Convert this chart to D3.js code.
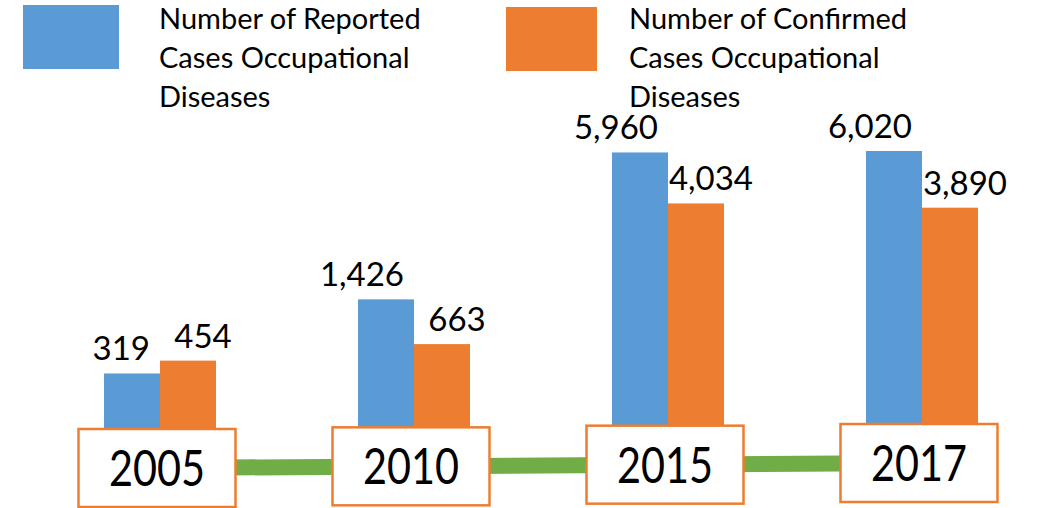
<!DOCTYPE html>
<html lang="en">
<head>
	<meta charset="utf-8">
	<script src="https://d3js.org/d3.v7.min.js"></script>
	<title>Occupational diseases</title>
	<style>
		html, body { margin: 0; padding: 0; background: #fff; }
		svg { display: block; font-family: Lato, "Open Sans", sans-serif; }
	</style>
</head>
<body>
<svg width="1051" height="508"></svg>
<script>
// data
var years = ["2005", "2010", "2015", "2017"];
var seriesNames = ["Reported", "Confirmed"];
var legendLines = [
	["Number of Reported", "Cases Occupational", "Diseases"],
	["Number of Confirmed", "Cases Occupational", "Diseases"]
];
var reported = [319, 1426, 5960, 6020];
var confirmed = [454, 663, 4034, 3890];

var colors = ["#5b9bd5", "#ed7d31"];

var svg = d3.select("svg");
var fmt = d3.format(",");

// x: one band per year, then a sub band per series
var x0 = d3.scaleBand()
	.domain(years)
	.range([33, 1049])
	.paddingInner(0.559)
	.paddingOuter(0.2795);
var x1 = d3.scaleBand()
	.domain(seriesNames)
	.range([0, x0.bandwidth()]);

// bars start behind the year boxes
var y = d3.scaleSqrt()
	.domain([0, 6020])
	.range([440, 151]);

var rows = years.map(function(yr, i){
	return {year: yr, values: [reported[i], confirmed[i]]};
});

// green connector, slightly rising to the right
var lineY = d3.scaleLinear()
	.domain([x0(years[0]), x0(years[years.length-1])])
	.range([468, 463]);

var half = x0.bandwidth()/2;
svg.append("line")
	.attr("x1", x0(years[0]) + half)
	.attr("x2", x0(years[years.length-1]) + half)
	.attr("y1", lineY(x0(years[0])))
	.attr("y2", lineY(x0(years[years.length-1])))
	.attr("stroke", "#70ad47")
	.attr("stroke-width", 16);

var groups = svg.selectAll(".grp")
	.data(rows)
	.enter()
	.append("g")
	.attr("class", "grp")
	.attr("transform", function(d){ return "translate(" + x0(d.year) + ",0)"; });

groups.selectAll("rect.bar")
	.data(function(d){ return d.values.map(function(v, k){ return {k: k, v: v}; }); })
	.enter()
	.append("rect")
	.attr("class", "bar")
	.attr("x", function(d){ return x1(seriesNames[d.k]); })
	.attr("y", function(d){ return y(d.v); })
	.attr("width", x1.bandwidth())
	.attr("height", function(d){ return y(0) - y(d.v); })
	.attr("fill", function(d){ return colors[d.k]; });

// value labels: blue ones sit to the left, orange ones to the right
groups.selectAll("text.val")
	.data(function(d){ return d.values.map(function(v, k){ return {k: k, v: v}; }); })
	.enter()
	.append("text")
	.attr("class", "val")
	.attr("x", function(d){
		return d.k == 0 ? x1(seriesNames[0]) + x1.bandwidth() - 10
		                : x1(seriesNames[1]) + x1.bandwidth()/2 + 15;
	})
	.attr("y", function(d){ return y(d.v) - 13; })
	.attr("text-anchor", function(d){ return d.k == 0 ? "end" : "middle"; })
	.attr("font-size", 33)
	.attr("fill", "#000")
	.text(function(d){ return fmt(d.v); });

// year boxes on the green line
var boxW = 157, boxH = 78;
groups.append("rect")
	.attr("x", half - 3 - boxW/2)
	.attr("y", function(d){ return lineY(x0(d.year)) - boxH/2; })
	.attr("width", boxW)
	.attr("height", boxH)
	.attr("fill", "#fff")
	.attr("stroke", "#ed7d31")
	.attr("stroke-width", 2.5);

groups.append("text")
	.attr("x", half - 3)
	.attr("y", function(d){ return lineY(x0(d.year)) + 18; })
	.attr("text-anchor", "middle")
	.attr("font-size", 51)
	.attr("textLength", 96)
	.attr("lengthAdjust", "spacingAndGlyphs")
	.text(function(d){ return d.year; });

// legend
var legendX = [23, 506], legendTextX = [159, 629];
var leg = svg.selectAll(".leg")
	.data(legendLines)
	.enter()
	.append("g")
	.attr("class", "leg");
leg.append("rect")
	.attr("x", function(d, i){ return legendX[i]; })
	.attr("y", function(d, i){ return 5 + i*2; })
	.attr("width", function(d, i){ return i == 0 ? 96 : 91; })
	.attr("height", 64)
	.attr("fill", function(d, i){ return colors[i]; });
leg.each(function(lines, i){
	d3.select(this).selectAll("text")
		.data(lines)
		.enter()
		.append("text")
		.attr("x", legendTextX[i])
		.attr("y", function(d, j){ return 29 + j*39; })
		.attr("font-size", 29)
		.attr("fill", "#000")
		.text(function(d){ return d; });
});
</script>
</body>
</html>
